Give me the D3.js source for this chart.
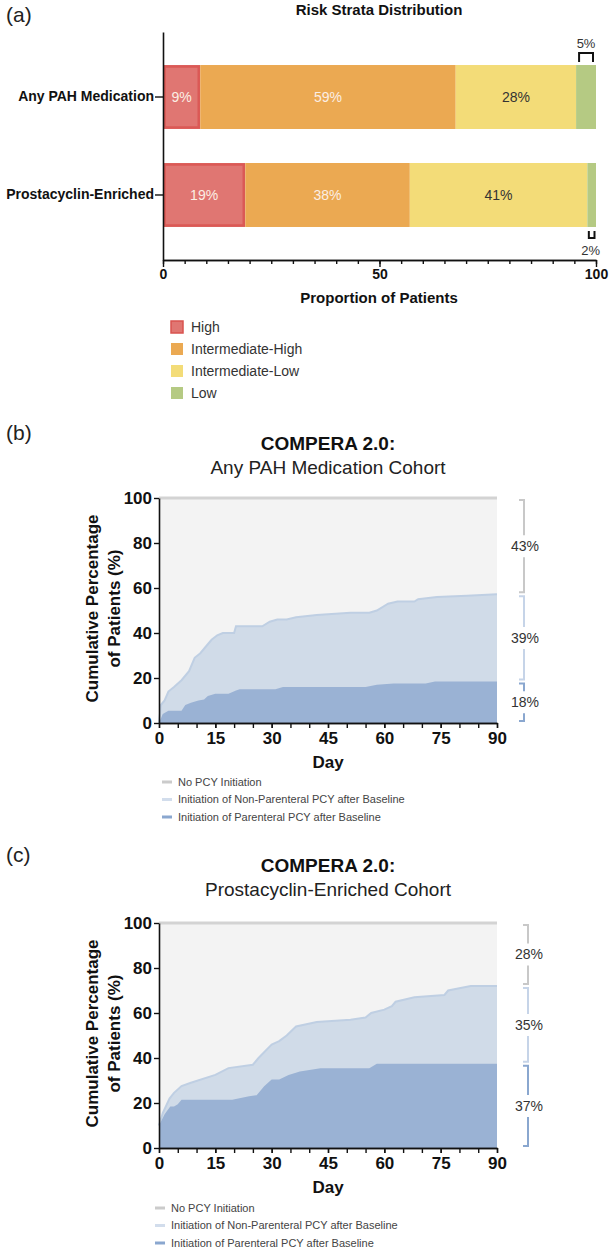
<!DOCTYPE html>
<html><head><meta charset="utf-8">
<script src="https://cdn.jsdelivr.net/npm/d3@7"></script>
<style>
body{margin:0;background:#fff;}
text{font-family:"Liberation Sans",Arial,Helvetica,sans-serif;}
</style>
</head><body>
<svg id="chart" width="609" height="1248"></svg>
<script>
// ---------- Panel (a) data ----------
const riskCategories = ["Any PAH Medication", "Prostacyclin-Enriched"];
const riskStrata = ["High", "Intermediate-High", "Intermediate-Low", "Low"];
const anyPahValues = [8.6, 59.0, 27.8, 4.6];
const prostacyclinValues = [19, 38, 41, 2];
const riskTicks = [0, 50, 100];

// ---------- Panel (b) data: Any PAH Medication Cohort ----------
const bTotalDays = [0, 0.5, 1.5, 2.5, 4, 6, 8, 9.5, 11, 12.5, 14, 15.5, 17, 20, 20.5, 27.5, 29.5, 31.5, 34, 36.5, 42, 51, 56, 58, 61, 63.5, 66.5, 68, 69, 74, 82, 90];
const bTotal = [0, 8, 10, 14, 16, 19, 23, 29, 31, 34, 37, 39, 40, 40, 43, 43, 45, 46, 46, 47, 48, 49, 49, 50, 53, 54, 54, 54, 55, 56, 56.6, 57.2];
const bParDays = [0, 1, 2.5, 6, 7, 8.5, 10.5, 12, 13, 15, 18.5, 20.5, 21.5, 31, 33, 55, 58, 62.5, 71, 73.5, 90];
const bPar = [0, 4, 5.5, 5.5, 8, 9, 10, 10.5, 12, 13, 13, 14.5, 15, 15, 16, 16, 17, 17.6, 17.6, 18.4, 18.4];

// ---------- Panel (c) data: Prostacyclin-Enriched Cohort ----------
const cTotalDays = [0, 1, 2.8, 4, 6, 8.5, 15, 18.5, 25, 26.5, 30, 32, 34, 36.5, 42, 51, 55, 56.5, 60, 62, 63, 68, 76, 77, 83, 90];
const cTotal = [10, 15.5, 22, 24.5, 27.5, 29, 32.5, 35.5, 37, 40, 46, 47.5, 50, 54, 56, 57, 58, 60, 61.5, 63, 65, 67, 68, 70, 72, 72];
const cParDays = [0, 1.5, 3, 4, 5, 6, 19.5, 24, 26, 28, 30, 32, 34.5, 37.5, 43, 56, 58, 90];
const cPar = [10, 15, 18.5, 18.5, 19.5, 21.5, 21.5, 23, 23.5, 27.5, 30.5, 30.5, 32.5, 34, 35.5, 35.5, 37.4, 37.4];

const dayTicks = [0, 15, 30, 45, 60, 75, 90];
const pctTicks = [0, 20, 40, 60, 80, 100];
const cohortLegend = ["No PCY Initiation", "Initiation of Non-Parenteral PCY after Baseline", "Initiation of Parenteral PCY after Baseline"];

// ---------- styles ----------
const riskColors = ["#e07672", "#eba952", "#f3dc78", "#b5ca83"];
const riskTextColors = ["#fbeee4", "#fbeee4", "#333333", "#333333"];
const cohortColors = {bg: "#f3f3f3", top: "#d3d3d3", light: "#d0dbe8", lightEdge: "#bfcfe3", dark: "#9ab2d4"};
const bracketColors = ["#c8c8c8", "#c6d4e8", "#8aa7cf"];
const legendColors = ["#cbcbcb", "#d2ddec", "#8aa7cf"];

const svg = d3.select("#chart");

// ================= Panel (a) =================
svg.append("text").attr("x", 6).attr("y", 22).attr("font-size", 21).attr("fill", "#222").text("(a)");
svg.append("text").attr("x", 379).attr("y", 15).attr("text-anchor", "middle")
  .attr("font-size", 15).attr("font-weight", "bold").attr("fill", "#111").text("Risk Strata Distribution");

const xa = d3.scaleLinear().domain([0, 100]).range([163, 596]);
const ya = d3.scaleBand().domain(riskCategories).range([32, 260]).paddingInner(0.347).paddingOuter(0.337);

const rows = [anyPahValues, prostacyclinValues].map((vals, r) => {
  let acc = 0;
  return vals.map((v, i) => { const s = acc; acc += v; return {cat: riskCategories[r], i, v, s, e: acc}; });
});

const ga = svg.append("g");
rows.forEach(row => {
  row.forEach(d => {
    ga.append("rect")
      .attr("x", xa(d.s)).attr("y", ya(d.cat))
      .attr("width", xa(d.e) - xa(d.s)).attr("height", ya.bandwidth())
      .attr("fill", riskColors[d.i]);
    if (d.i === 0) {
      ga.append("rect")
        .attr("x", xa(d.s) + 1.5).attr("y", ya(d.cat) + 1.5)
        .attr("width", xa(d.e) - xa(d.s) - 3).attr("height", ya.bandwidth() - 3)
        .attr("fill", "none").attr("stroke", "#d9534f").attr("stroke-width", 2.5).attr("opacity", 0.8);
    }
    if (d.i < 3) {
      ga.append("text")
        .attr("x", (xa(d.s) + xa(d.e)) / 2).attr("y", ya(d.cat) + ya.bandwidth() / 2)
        .attr("dy", "0.35em").attr("text-anchor", "middle").attr("font-size", 14)
        .attr("fill", riskTextColors[d.i]).text(d3.format(".0f")(d.v) + "%");
    }
  });
});

// brackets for small "Low" segments
{
  const d = rows[0][3];
  const x1 = xa(d.s) + 3, x2 = xa(d.e) - 3, yb = ya(d.cat);
  ga.append("path").attr("d", `M${x1},${yb - 3}V${yb - 12}H${x2}V${yb - 3}`)
    .attr("fill", "none").attr("stroke", "#111").attr("stroke-width", 2);
  ga.append("text").attr("x", (x1 + x2) / 2).attr("y", yb - 22).attr("dy", "0.35em")
    .attr("text-anchor", "middle").attr("font-size", 13).attr("fill", "#333").text(d3.format(".0f")(d.v) + "%");
}
{
  const d = rows[1][3];
  const x1 = xa(d.s) + 1.5, x2 = xa(d.e) - 1.5, yb = ya(d.cat) + ya.bandwidth();
  ga.append("path").attr("d", `M${x1},${yb + 4}V${yb + 11}H${x2}V${yb + 4}`)
    .attr("fill", "none").attr("stroke", "#111").attr("stroke-width", 2);
  ga.append("text").attr("x", (x1 + x2) / 2 - 1).attr("y", yb + 23).attr("dy", "0.35em")
    .attr("text-anchor", "middle").attr("font-size", 13).attr("fill", "#333").text(d3.format(".0f")(d.v) + "%");
}

// axes (a)
const axMinor = svg.append("g").attr("transform", "translate(0,260)")
  .call(d3.axisBottom(xa).tickValues(d3.range(0, 101, 5)).tickSize(4).tickSizeOuter(0).tickFormat(""));
const axMajor = svg.append("g").attr("transform", "translate(0,260)")
  .call(d3.axisBottom(xa).tickValues(riskTicks).tickSize(7).tickSizeOuter(0).tickPadding(2));
axMajor.selectAll("text").attr("font-size", 14).attr("font-weight", "bold").attr("fill", "#111")
  .style("font-family", "'Liberation Sans', Arial, sans-serif");
const ayAxis = svg.append("g").attr("transform", "translate(163,0)")
  .call(d3.axisLeft(ya).tickSize(8).tickSizeOuter(0).tickPadding(1));
ayAxis.selectAll("text").attr("font-size", 14).attr("font-weight", "bold").attr("fill", "#111")
  .style("font-family", "'Liberation Sans', Arial, sans-serif");
[axMinor, axMajor, ayAxis].forEach(a => {
  a.selectAll("path.domain").attr("stroke", "#111").attr("stroke-width", 1.6);
  a.selectAll(".tick line").attr("stroke", "#111").attr("stroke-width", 1.4);
});
svg.append("text").attr("x", 379).attr("y", 303).attr("text-anchor", "middle")
  .attr("font-size", 15).attr("font-weight", "bold").attr("fill", "#111").text("Proportion of Patients");

// legend (a)
riskStrata.forEach((s, i) => {
  const cy = 327 + i * 22;
  svg.append("rect").attr("x", 171).attr("y", cy - 6).attr("width", 12).attr("height", 12)
    .attr("fill", riskColors[i]).attr("stroke", i === 0 ? "#d9534f" : "none").attr("stroke-width", 1.5);
  svg.append("text").attr("x", 191).attr("y", cy).attr("dy", "0.35em").attr("font-size", 14)
    .attr("fill", "#333").text(s);
});

// ================= Panels (b) & (c) =================
function drawCohort(cfg) {
  const x = d3.scaleLinear().domain([0, 90]).range([159, 497]);
  const y = d3.scaleLinear().domain([0, 100]).range([cfg.y0, cfg.y0 - 225]);
  const g = svg.append("g");

  g.append("text").attr("x", 6).attr("y", cfg.labelY).attr("font-size", 21).attr("fill", "#222").text(cfg.label);
  g.append("text").attr("x", 328).attr("y", cfg.titleY).attr("text-anchor", "middle")
    .attr("font-size", 19).attr("font-weight", "bold").attr("fill", "#111").text("COMPERA 2.0:");
  g.append("text").attr("x", 328).attr("y", cfg.titleY + 24).attr("text-anchor", "middle")
    .attr("font-size", 19).attr("fill", "#222").text(cfg.subtitle);

  // background (No PCY Initiation)
  g.append("path").datum([0, 90])
    .attr("d", d3.area().x(d => x(d)).y0(y(0)).y1(y(100)))
    .attr("fill", cohortColors.bg);
  g.append("path").datum([0, 90])
    .attr("d", d3.line().x(d => x(d)).y(y(100)))
    .attr("stroke", cohortColors.top).attr("stroke-width", 3).attr("fill", "none");

  const tot = cfg.totalDays.map((d, i) => [d, cfg.total[i]]);
  const par = cfg.parDays.map((d, i) => [d, cfg.par[i]]);
  g.append("path").datum(tot)
    .attr("d", d3.area().x(d => x(d[0])).y0(y(0)).y1(d => y(d[1])))
    .attr("fill", cohortColors.light);
  g.append("path").datum(tot)
    .attr("d", d3.line().x(d => x(d[0])).y(d => y(d[1])))
    .attr("stroke", cohortColors.lightEdge).attr("stroke-width", 2).attr("fill", "none");
  g.append("path").datum(par)
    .attr("d", d3.area().x(d => x(d[0])).y0(y(0)).y1(d => y(d[1])))
    .attr("fill", cohortColors.dark);

  // axes
  const xMinor = g.append("g").attr("transform", `translate(0,${y(0)})`)
    .call(d3.axisBottom(x).tickValues(d3.range(0, 91, 5)).tickSize(5).tickSizeOuter(0).tickFormat(""));
  const xMajor = g.append("g").attr("transform", `translate(0,${y(0)})`)
    .call(d3.axisBottom(x).tickValues(dayTicks).tickSize(5).tickSizeOuter(0).tickPadding(4));
  const yAx = g.append("g").attr("transform", `translate(${x(0)},0)`)
    .call(d3.axisLeft(y).tickValues(pctTicks).tickSize(5).tickSizeOuter(0).tickPadding(2));
  [xMinor, xMajor, yAx].forEach(a => {
    a.selectAll("path.domain").attr("stroke", "#111").attr("stroke-width", 1.6);
    a.selectAll(".tick line").attr("stroke", "#111").attr("stroke-width", 1.4);
    a.selectAll("text").attr("font-size", 17).attr("font-weight", "bold").attr("fill", "#111")
      .style("font-family", "'Liberation Sans', Arial, sans-serif");
  });

  g.append("text").attr("x", 328).attr("y", y(0) + 45).attr("text-anchor", "middle")
    .attr("font-size", 17).attr("font-weight", "bold").attr("fill", "#111").text("Day");
  const cy = (y(0) + y(100)) / 2 - 2;
  [["Cumulative Percentage", 92], ["of Patients (%)", 114]].forEach(([t, cx]) => {
    g.append("text").attr("transform", `translate(${cx},${cy}) rotate(-90)`)
      .attr("text-anchor", "middle").attr("dy", "0.35em")
      .attr("font-size", 17).attr("font-weight", "bold").attr("fill", "#111").text(t);
  });

  // right-hand brackets
  const fTot = cfg.total[cfg.total.length - 1];
  const fPar = cfg.par[cfg.par.length - 1];
  const segs = [[100, fTot], [fTot, fPar], [fPar, 0]];
  segs.forEach(([hi, lo], i) => {
    const yt = y(hi) + 2, yb = y(lo) - 2, ym = (yt + yb) / 2, bx = cfg.bracketX;
    const col = bracketColors[i];
    g.append("path").attr("d", `M${bx - 5},${yt}H${bx}V${ym - 11}`)
      .attr("fill", "none").attr("stroke", col).attr("stroke-width", 2);
    g.append("path").attr("d", `M${bx},${ym + 11}V${yb}H${bx - 5}`)
      .attr("fill", "none").attr("stroke", col).attr("stroke-width", 2);
    g.append("text").attr("x", bx + 1).attr("y", ym).attr("dy", "0.35em").attr("text-anchor", "middle")
      .attr("font-size", 14).attr("fill", "#333").text(d3.format(".0f")(hi - lo) + "%");
  });

  // legend
  cohortLegend.forEach((t, i) => {
    const ly = cfg.legendY + i * 17.5;
    g.append("line").attr("x1", cfg.legendX).attr("x2", cfg.legendX + 10).attr("y1", ly).attr("y2", ly)
      .attr("stroke", legendColors[i]).attr("stroke-width", 3);
    g.append("text").attr("x", cfg.legendX + 16).attr("y", ly).attr("dy", "0.35em")
      .attr("font-size", 11).attr("fill", "#444").text(t);
  });
}

drawCohort({label: "(b)", labelY: 440, titleY: 450, subtitle: "Any PAH Medication Cohort", y0: 723,
  totalDays: bTotalDays, total: bTotal, parDays: bParDays, par: bPar,
  bracketX: 524, legendX: 162, legendY: 782});
drawCohort({label: "(c)", labelY: 862, titleY: 872, subtitle: "Prostacyclin-Enriched Cohort", y0: 1148,
  totalDays: cTotalDays, total: cTotal, parDays: cParDays, par: cPar,
  bracketX: 528, legendX: 155, legendY: 1208});
</script>
</body></html>
